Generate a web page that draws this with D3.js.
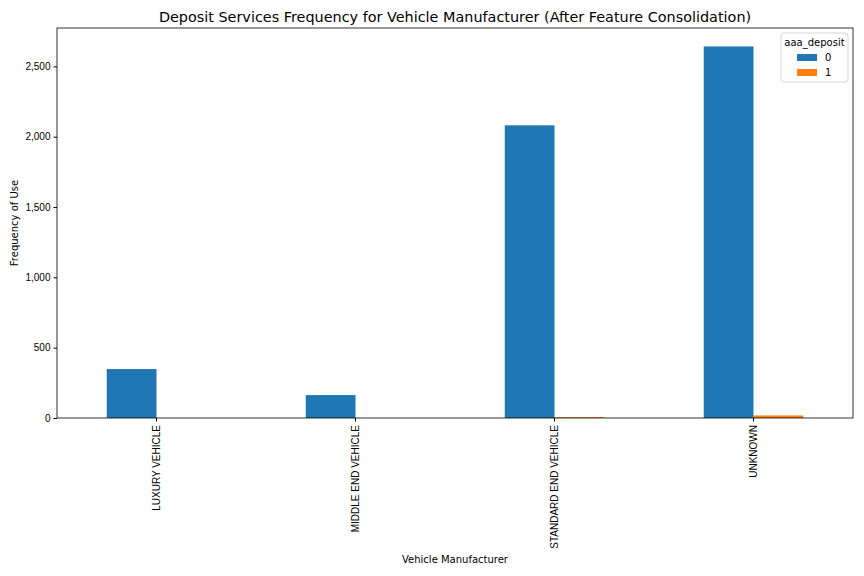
<!DOCTYPE html>
<html><head><meta charset="utf-8">
<script src="https://cdn.jsdelivr.net/npm/d3@7"></script>
<style>body{margin:0;background:#fff;font-family:"DejaVu Sans",sans-serif;}</style>
</head><body><div id="chart"></div>
<script>
const categories = ['LUXURY VEHICLE', 'MIDDLE END VEHICLE', 'STANDARD END VEHICLE', 'UNKNOWN'];
const seriesKeys = ['0', '1'];
const series0 = [348, 163, 2081, 2642];
const series1 = [0, 0, 6, 18];
const yTicks = [0, 500, 1000, 1500, 2000, 2500];
const colors = ['#1f77b4', '#ff7f0e'];

const W = 864, H = 576;
const m = {top: 28, right: 11, bottom: 158, left: 57};
const w = W - m.left - m.right, h = H - m.top - m.bottom;

const svg = d3.select('#chart').append('svg').attr('width', W).attr('height', H);
const g = svg.append('g').attr('transform', `translate(${m.left},${m.top})`);

const x = d3.scaleBand().domain(categories).range([0, w]).padding(0);
const xs = d3.scaleBand().domain(seriesKeys).range([x.bandwidth() * 0.25, x.bandwidth() * 0.75]);
const y = d3.scaleLinear().domain([0, 2773]).range([h, 0]);

const data = [series0, series1];
data.forEach((vals, si) => {
  g.selectAll('.b' + si).data(vals).enter().append('rect')
    .attr('x', (d, i) => x(categories[i]) + xs(seriesKeys[si]))
    .attr('y', d => y(d))
    .attr('width', xs.bandwidth())
    .attr('height', d => h - y(d))
    .attr('fill', colors[si]);
});

const xa = g.append('g').attr('transform', `translate(0,${h})`)
  .call(d3.axisBottom(x).tickSizeOuter(0).tickSize(3.5));
xa.selectAll('text').attr('transform', 'rotate(-90)').attr('text-anchor', 'end')
  .attr('x', -7).attr('y', 0).attr('dy', '0.35em').attr('font-size', 10).attr('fill', '#000');
xa.select('.domain').remove();

const ya = g.append('g').call(d3.axisLeft(y).tickValues(yTicks).tickSize(3.5).tickSizeOuter(0));
ya.selectAll('text').attr('font-size', 10).attr('fill', '#000');
ya.select('.domain').remove();

g.append('rect').attr('width', w).attr('height', h).attr('fill', 'none').attr('stroke', '#000').attr('stroke-width', 0.8);

svg.append('text').attr('x', m.left + w / 2).attr('y', 22).attr('text-anchor', 'middle')
  .attr('font-size', 14.4).text('Deposit Services Frequency for Vehicle Manufacturer (After Feature Consolidation)');
svg.append('text').attr('x', m.left + w / 2).attr('y', 563).attr('text-anchor', 'middle')
  .attr('font-size', 10).text('Vehicle Manufacturer');
svg.append('text').attr('transform', `translate(18,${m.top + h / 2}) rotate(-90)`).attr('text-anchor', 'middle')
  .attr('font-size', 10).text('Frequency of Use');

// legend
const lg = svg.append('g').attr('transform', 'translate(781,33)');
lg.append('rect').attr('width', 67).attr('height', 49).attr('rx', 3).attr('fill', '#fff')
  .attr('stroke', '#ccc').attr('stroke-width', 0.8);
lg.append('text').attr('x', 33.5).attr('y', 13).attr('text-anchor', 'middle').attr('font-size', 10).text('aaa_deposit');
seriesKeys.forEach((k, i) => {
  lg.append('rect').attr('x', 16).attr('y', 21 + i * 15).attr('width', 20).attr('height', 7).attr('fill', colors[i]);
  lg.append('text').attr('x', 44).attr('y', 28 + i * 15).attr('font-size', 10).text(k);
});
</script></body></html>
